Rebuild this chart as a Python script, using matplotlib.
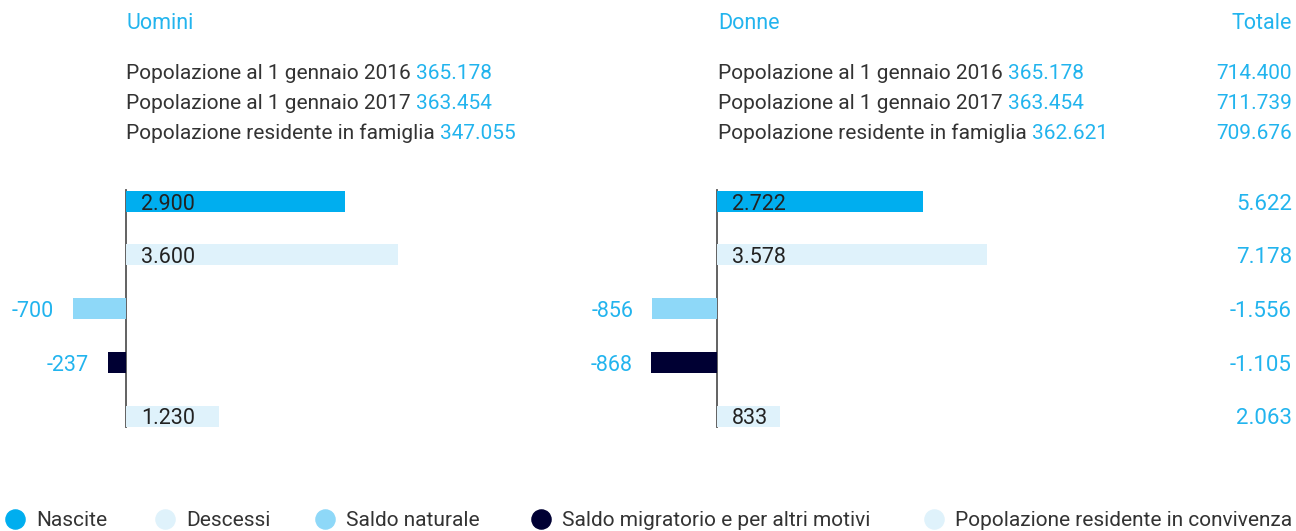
import matplotlib
matplotlib.use("Agg")
from matplotlib import pyplot as plt
from matplotlib import transforms
import numpy as np

plt.rcParams['font.family'] = ['Roboto', 'DejaVu Sans']

# data
categories = ['Nascite', 'Descessi', 'Saldo naturale',
              'Saldo migratorio e per altri motivi',
              'Popolazione residente in convivenza']
uomini = [2900, 3600, -700, -237, 1230]
donne = [2722, 3578, -856, -868, 833]
totale = [5622, 7178, -1556, -1105, 2063]

header_labels = ['Popolazione al 1 gennaio 2016',
                 'Popolazione al 1 gennaio 2017',
                 'Popolazione residente in famiglia']
header_uomini = [365178, 363454, 347055]
header_donne = [365178, 363454, 362621]
header_totale = [714400, 711739, 709676]

colors = ['#00aeef', '#dff2fb', '#8ed8f8', '#000033', '#dff2fb']
BLUE = '#22b4ee'
DARK = '#333333'

W, H = 1296, 531
fig = plt.figure(figsize=(W / 100, H / 100), dpi=100)

scale = 219 / 2900  # pixels per unit


def fmt(v):
    return f"{v:,}".replace(',', '.')


def panel(x0, x1, zero, values):
    ax = fig.add_axes([x0 / W, (H - 440) / H, (x1 - x0) / W, 260 / H])
    ax.set_xlim((x0 - zero) / scale, (x1 - zero) / scale)
    row = 53.75
    ax.set_ylim((440 - 201) / row, (180 - 201) / row)
    ax.axis('off')
    y = np.arange(len(values))
    ax.plot([0, 0], [-0.2, 4.2], color='#555555', lw=1.3, zorder=1)
    ax.barh(y, values, height=21 / row, color=colors, zorder=2)
    for i, v in enumerate(values):
        if v >= 0:
            ax.annotate(fmt(v), xy=(0, i), xytext=(15, -3), textcoords='offset pixels',
                        ha='left', va='center', fontsize=15.5, color='#222222', zorder=3)
        else:
            ax.annotate(fmt(v), xy=(v, i), xytext=(-19, -3), textcoords='offset pixels',
                        ha='right', va='center', fontsize=15.5, color=BLUE)
    return ax


ax1 = panel(0, 560, 126, uomini)
ax2 = panel(590, 1290, 717, donne)

tr = transforms.blended_transform_factory(fig.transFigure, ax2.transData)
for i, v in enumerate(totale):
    ax2.annotate(fmt(v), xy=(1292 / W, i), xycoords=tr, xytext=(0, -3),
                 textcoords='offset pixels', ha='right', va='center',
                 fontsize=16, color=BLUE)

# overlay in pixel coordinates for headers and legend
top = fig.add_axes([0, 0, 1, 1], zorder=-1)
top.set_xlim(0, W)
top.set_ylim(H, 0)
top.axis('off')

top.text(126, 29, 'Uomini', color=BLUE, fontsize=15.5, va='baseline')
top.text(718, 29, 'Donne', color=BLUE, fontsize=15.5, va='baseline')
top.text(1292, 29, 'Totale', color=BLUE, fontsize=15.5, va='baseline', ha='right')

for k, lab in enumerate(header_labels):
    yb = 79 + 30 * k
    for x0, nums in [(126, header_uomini), (718, header_donne)]:
        t = top.text(x0, yb, lab, color=DARK, fontsize=15, va='baseline')
        top.annotate(fmt(nums[k]), xy=(1, yb), xycoords=(t, 'data'),
                     xytext=(5, 0), textcoords='offset pixels',
                     color=BLUE, fontsize=15, va='baseline')
    top.text(1292, yb, fmt(header_totale[k]), color=BLUE, fontsize=15,
             va='baseline', ha='right')

# legend
marker_x = [15, 165, 325, 541, 934]
for mx, c, lab in zip(marker_x, colors, categories):
    top.scatter([mx], [519], s=190, color=c, clip_on=False)
    top.text(mx + 21, 526, lab, fontsize=15, color=DARK, va='baseline')

fig.savefig('out.png', dpi=100)
